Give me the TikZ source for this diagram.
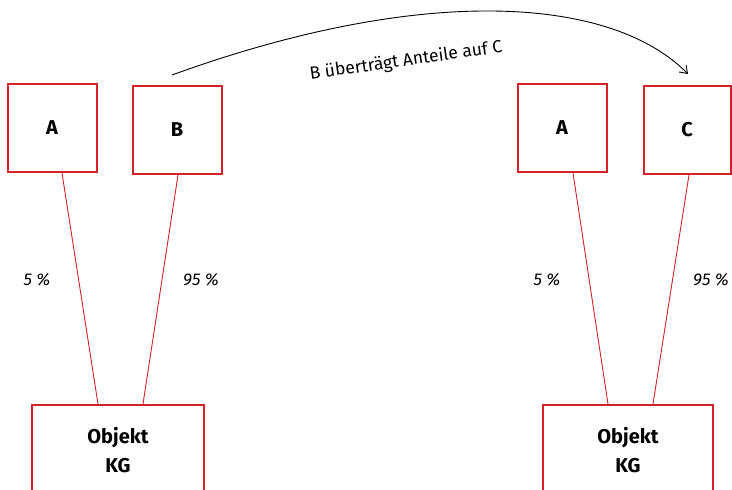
\documentclass[tikz,border=0pt]{standalone}
\usepackage{fontspec}
\setmainfont{Fira Sans}
\usetikzlibrary{arrows.meta,calc}
\definecolor{boxred}{HTML}{D3222A}
\begin{document}
\begin{tikzpicture}[x=1pt,y=-1pt,
  box/.style={draw=boxred,line width=2pt,minimum width=89pt,minimum height=88pt,inner sep=0pt,font=\fontsize{20}{24}\selectfont\bfseries},
  objbox/.style={draw=boxred,line width=2pt,minimum height=90pt,inner sep=0pt,align=center,font=\fontsize{20}{29}\selectfont\bfseries},
  conn/.style={draw=boxred,line width=0.9pt},
  pct/.style={font=\fontsize{17}{20}\selectfont\itshape},
  arr/.style={draw=black,line width=0.9pt,-{Straight Barb[length=7pt,width=10pt]}}]
\useasboundingbox (0,0) rectangle (732,490);
\clip (0,0) rectangle (732,490);
% left group
\node[box] (a1) at (52,128) {A};
\node[box] (b1) at (177,130) {B};
\node[objbox,minimum width=172pt] (o1) at (118,450) {Objekt\\KG};
\draw[conn] ([xshift=10pt]a1.south) -- ([xshift=-20pt]o1.north);
\draw[conn] ([xshift=1pt]b1.south) -- ([xshift=25pt]o1.north);
\node[pct] (p1) at (37,280) {5 \%};
\node[pct] (p2) at (201,280) {95 \%};
% right group
\node[box] (a2) at (562,128) {A};
\node[box,minimum width=87pt] (c2) at (687,130) {C};
\node[objbox,minimum width=170pt] (o2) at (628,450) {Objekt\\KG};
\draw[conn] ([xshift=11pt]a2.south) -- ([xshift=-20pt]o2.north);
\draw[conn] ([xshift=2pt]c2.south) -- ([xshift=25pt]o2.north);
\node[pct] (p3) at (547,280) {5 \%};
\node[pct] (p4) at (711,280) {95 \%};
% transfer arrow
\coordinate (s) at (172,75);
\coordinate (e) at (688,74);
\draw[arr] (s) .. controls (420,-15) and (610,-5) .. (e);
\node[font=\fontsize{17.5}{20}\selectfont,rotate=8] (lbl) at (406,61) {B überträgt Anteile auf C};
\end{tikzpicture}
\end{document}
